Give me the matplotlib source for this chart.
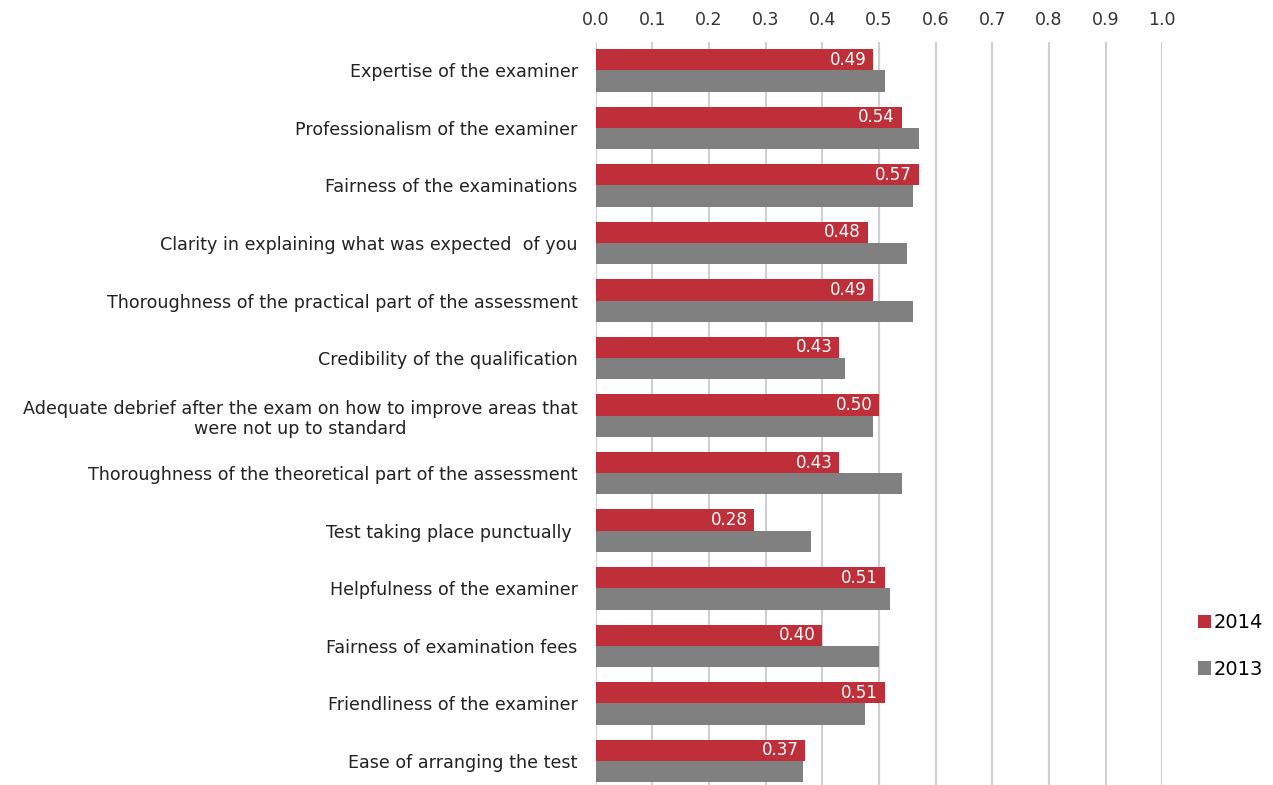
import matplotlib.pyplot as plt
import numpy as np

plt.rcParams['font.family'] = ['DejaVu Sans']

categories = [
    "Expertise of the examiner",
    "Professionalism of the examiner",
    "Fairness of the examinations",
    "Clarity in explaining what was expected  of you",
    "Thoroughness of the practical part of the assessment",
    "Credibility of the qualification",
    "Adequate debrief after the exam on how to improve areas that\nwere not up to standard",
    "Thoroughness of the theoretical part of the assessment",
    "Test taking place punctually ",
    "Helpfulness of the examiner",
    "Fairness of examination fees",
    "Friendliness of the examiner",
    "Ease of arranging the test",
]
scores_2014 = [0.49, 0.54, 0.57, 0.48, 0.49, 0.43, 0.50, 0.43, 0.28, 0.51, 0.40, 0.51, 0.37]
scores_2013 = [0.51, 0.57, 0.56, 0.55, 0.56, 0.44, 0.49, 0.54, 0.38, 0.52, 0.50, 0.475, 0.365]
xticks = np.round(np.arange(0, 1.01, 0.1), 1)

red = '#BF2F3A'
grey = '#808080'

fig = plt.figure(figsize=(12.73, 7.85), dpi=100)
ax = fig.add_axes([0.468, -0.006, 0.445, 0.953])

y = np.arange(len(categories))
h = 0.37
bars14 = ax.barh(y - h / 2, scores_2014, height=h, color=red, label='2014', zorder=3)
ax.barh(y + h / 2, scores_2013, height=h, color=grey, label='2013', zorder=3)

for bar, v in zip(bars14, scores_2014):
    ax.text(v - 0.012, bar.get_y() + bar.get_height() / 2, f"{v:.2f}",
            ha='right', va='center', color='white', fontsize=12, zorder=4)

ax.set_xlim(0, 1.0)
ax.set_ylim(len(categories) - 0.5, -0.5)
ax.set_xticks(xticks)
ax.set_xticklabels([f"{t:.1f}" for t in xticks])
ax.xaxis.tick_top()
ax.tick_params(axis='x', length=0, pad=9, labelsize=12.5, labelcolor='#333333')
ax.set_yticks(y)
ax.set_yticklabels(categories, multialignment='center')
ax.tick_params(axis='y', length=0, pad=13, labelsize=12.6, labelcolor='#222222')
ax.grid(axis='x', color='#d0d0d0', linewidth=1.5, zorder=0)
for s in ax.spines.values():
    s.set_visible(False)

handles, labels = ax.get_legend_handles_labels()
fig.legend(handles, labels, loc='center left', bbox_to_anchor=(0.927, 0.177),
           frameon=False, fontsize=14, handlelength=0.7, handleheight=0.7,
           handletextpad=0.15, labelspacing=1.4)

fig.savefig('out.png', dpi=100)
